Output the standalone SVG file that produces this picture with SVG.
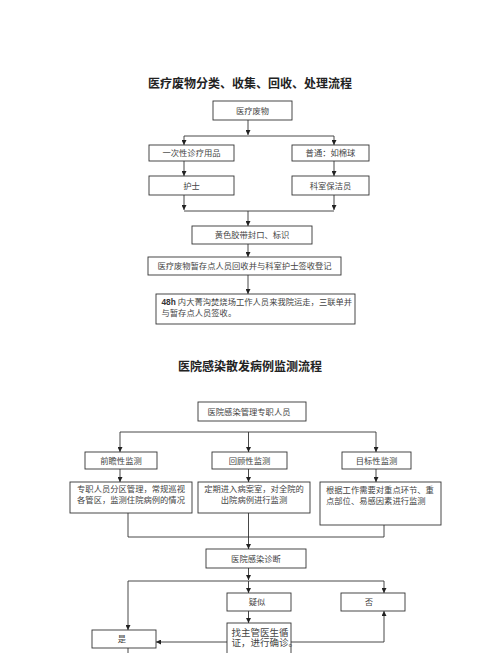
<svg xmlns="http://www.w3.org/2000/svg" width="500" height="653" viewBox="0 0 500 653">
<defs>
<marker id="ah" markerUnits="userSpaceOnUse" markerWidth="5" markerHeight="5" refX="5" refY="2.5" orient="auto">
<path d="M0,0 L5,2.5 L0,5 z" fill="#222"/>
</marker>
<style>
.bx{fill:#fff;stroke:#333;stroke-width:0.9}
.t{font-family:"Liberation Serif","Noto Sans CJK SC",serif;font-size:8.3px;fill:#444;text-anchor:middle}
.tl{font-family:"Liberation Serif","Noto Sans CJK SC",serif;font-size:8.3px;fill:#444}
.ttl{font-family:"Liberation Serif","Noto Sans CJK SC",serif;font-size:12px;font-weight:bold;fill:#222;text-anchor:middle}
.c line,.c polyline{stroke:#333;stroke-width:0.9;fill:none}
.a{marker-end:url(#ah)}
</style>
</defs>
<rect width="500" height="653" fill="#fff"/>
<text class="ttl" x="250" y="88">医疗废物分类、收集、回收、处理流程</text>
<text class="ttl" x="250" y="371">医院感染散发病例监测流程</text>
<g class="c" id="connectors">
<line class="a" x1="248" y1="120" x2="248" y2="135"/>
<line x1="184" y1="136" x2="334" y2="136"/>
<line class="a" x1="184" y1="136" x2="184" y2="145"/>
<line class="a" x1="334" y1="136" x2="334" y2="145"/>
<line class="a" x1="184" y1="161" x2="184" y2="176"/>
<line class="a" x1="334" y1="161" x2="334" y2="176"/>
<line class="a" x1="184" y1="195" x2="184" y2="210"/>
<line class="a" x1="334" y1="195" x2="334" y2="210"/>
<line x1="184" y1="211" x2="334" y2="211"/>
<line class="a" x1="248" y1="211" x2="248" y2="226"/>
<line class="a" x1="248" y1="244" x2="248" y2="257"/>
<line class="a" x1="248" y1="275" x2="248" y2="294"/>
<line x1="120" y1="432" x2="376" y2="432"/>
<line class="a" x1="120" y1="432" x2="120" y2="452"/>
<line class="a" x1="248.5" y1="432" x2="248.5" y2="452"/>
<line class="a" x1="376" y1="432" x2="376" y2="452"/>
<line class="a" x1="120" y1="469" x2="120" y2="482"/>
<line class="a" x1="248.5" y1="469" x2="248.5" y2="482"/>
<line class="a" x1="376" y1="469" x2="376" y2="482"/>
<line x1="128" y1="513" x2="128" y2="537"/>
<line x1="248.5" y1="513" x2="248.5" y2="537"/>
<line x1="384" y1="525" x2="384" y2="537"/>
<line x1="128" y1="537" x2="384" y2="537"/>
<line class="a" x1="248.5" y1="537" x2="248.5" y2="549"/>
<line class="a" x1="248.5" y1="568" x2="248.5" y2="580"/>
<line x1="128" y1="581" x2="384" y2="581"/>
<line class="a" x1="248.5" y1="581" x2="248.5" y2="593"/>
<line class="a" x1="128" y1="581" x2="128" y2="630"/>
<line class="a" x1="384" y1="581" x2="384" y2="593"/>
<line class="a" x1="248.5" y1="611" x2="248.5" y2="623"/>
<line class="a" x1="227" y1="642" x2="156" y2="642"/>
<polyline class="a" points="291,642 384,642 384,611"/>
<line x1="128" y1="648" x2="128" y2="653"/>
</g>
<g id="n1"><rect class="bx" x="213" y="101" width="79" height="19"/><text class="t" x="252.5" y="114">医疗废物</text></g>
<g id="n2"><rect class="bx" x="149" y="145" width="85" height="16"/><text class="t" x="191.5" y="156">一次性诊疗用品</text></g>
<g id="n3"><rect class="bx" x="292" y="145" width="77" height="16"/><text class="t" x="330.5" y="156">普通：如棉球</text></g>
<g id="n4"><rect class="bx" x="149" y="176" width="85" height="19"/><text class="t" x="191.5" y="188.5">护士</text></g>
<g id="n5"><rect class="bx" x="292" y="176" width="77" height="19"/><text class="t" x="330.5" y="188.5">科室保洁员</text></g>
<g id="n6"><rect class="bx" x="192" y="226" width="120" height="18"/><text class="t" x="252" y="238">黄色胶带封口、标识</text></g>
<g id="n7"><rect class="bx" x="148" y="257" width="193" height="18"/><text class="t" x="244.5" y="269">医疗废物暂存点人员回收并与科室护士签收登记</text></g>
<g id="n8"><rect class="bx" x="156" y="294" width="199" height="30"/><text class="tl" x="161.5" y="305"><tspan font-family="Liberation Sans" font-weight="bold" fill="#333">48h</tspan> 内大菁沟焚烧场工作人员来我院运走，三联单并</text><text class="tl" x="161.5" y="316">与暂存点人员签收。</text></g>
<g id="n9"><rect class="bx" x="198" y="402" width="108" height="19"/><text class="t" x="249" y="414.5">医院感染管理专职人员</text></g>
<g id="n10"><rect class="bx" x="85" y="452" width="72" height="17"/><text class="t" x="121" y="463.5">前瞻性监测</text></g>
<g id="n11"><rect class="bx" x="212" y="452" width="75" height="17"/><text class="t" x="249.5" y="463.5">回顾性监测</text></g>
<g id="n12"><rect class="bx" x="342" y="452" width="69" height="17"/><text class="t" x="376.5" y="463.5">目标性监测</text></g>
<g id="n13"><rect class="bx" x="70" y="482" width="122" height="31"/><text class="t" x="131" y="491.5">专职人员分区管理，常规巡视</text><text class="t" x="131" y="503">各管区，监测住院病例的情况</text></g>
<g id="n14"><rect class="bx" x="198" y="482" width="112" height="31"/><text class="t" x="254" y="491.5">定期进入病案室，对全院的</text><text class="t" x="254" y="503">出院病例进行监测</text></g>
<g id="n15"><rect class="bx" x="320" y="482" width="121" height="43"/><text class="tl" x="326" y="493">根据工作需要对重点环节、重</text><text class="tl" x="326" y="504">点部位、易感因素进行监测</text></g>
<g id="n16"><rect class="bx" x="206" y="549" width="100" height="19"/><text class="t" x="256" y="561.5">医院感染诊断</text></g>
<g id="n17"><rect class="bx" x="227" y="593" width="64" height="18"/><text class="t" x="257" y="605">疑似</text></g>
<g id="n18"><rect class="bx" x="341" y="593" width="64" height="18"/><text class="t" x="369" y="605">否</text></g>
<g id="n19"><rect class="bx" x="227" y="623" width="64" height="36"/><text class="tl" x="231.5" y="635.5" style="font-size:9.5px">找主管医生循</text><text class="tl" x="231.5" y="645.5" style="font-size:9.5px">证，进行确诊。</text></g>
<g id="n20"><rect class="bx" x="92" y="630" width="64" height="18"/><text class="t" x="122" y="642">是</text></g>
</svg>
